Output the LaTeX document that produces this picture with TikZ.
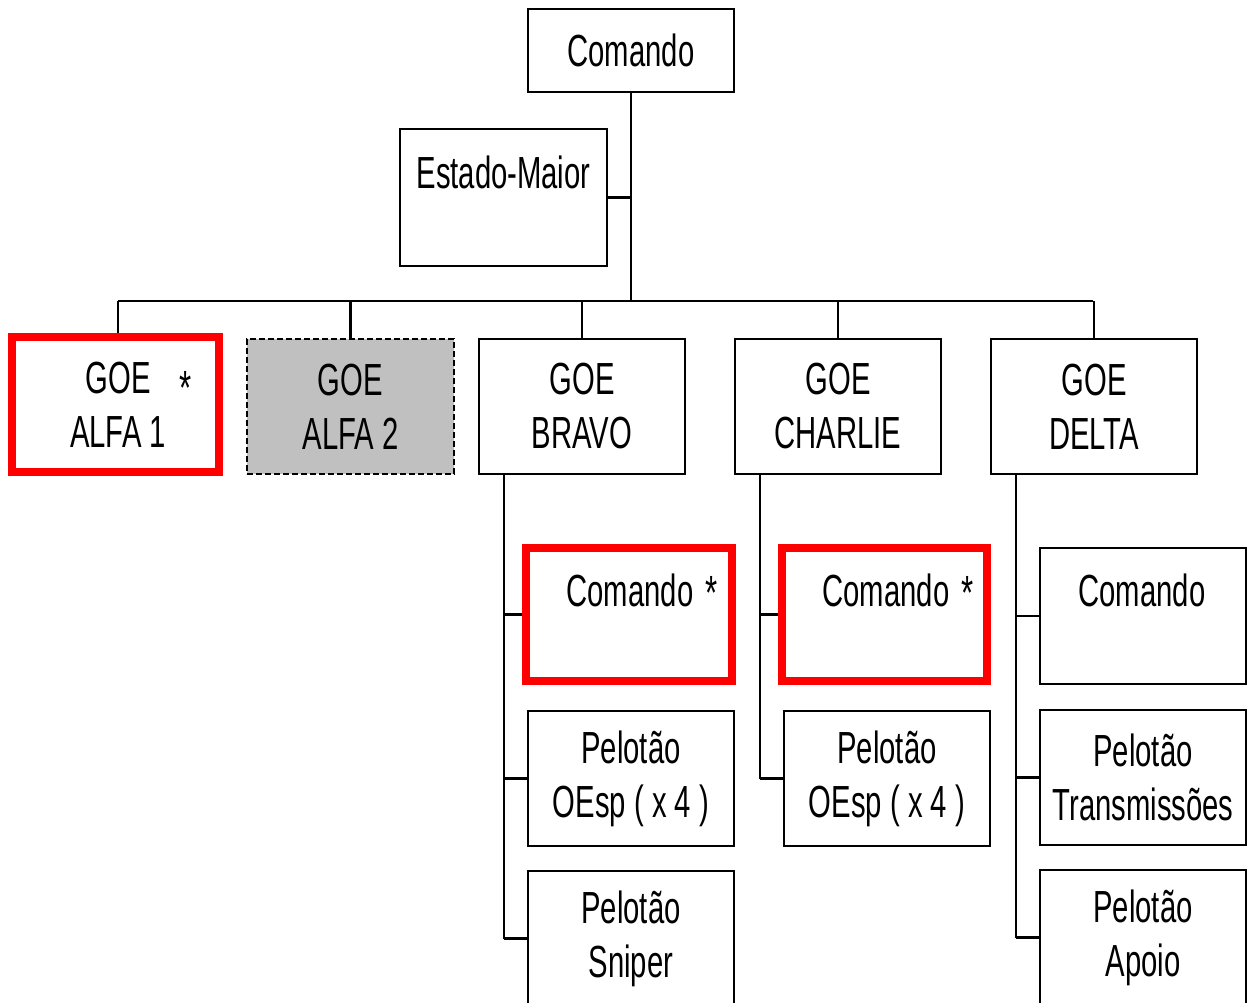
\documentclass[tikz,border=0pt]{standalone}
\usepackage{fontspec}
\setmainfont[FakeStretch=0.65]{Liberation Sans}
\newcommand{\orgfont}{\fontsize{45}{54}\selectfont}
\newcommand{\starfont}{\fontsize{48}{48}\selectfont}
\definecolor{unitgrey}{RGB}{192,192,192}
\tikzset{
  unit/.style={draw, line width=2.2pt, minimum width=206pt, minimum height=135pt,
               inner sep=0pt, align=center, font=\orgfont, fill=white},
  redunit/.style={unit, draw=red, line width=8pt},
  greyunit/.style={unit, dash pattern=on 6pt off 3pt, fill=unitgrey},
  caption/.style={inner sep=0pt, font=\orgfont, align=center},
  star/.style={inner sep=0pt, font=\starfont},
  wire/.style={line width=2.2pt}
}
\begin{document}
\begin{tikzpicture}[x=1pt, y=-1pt]
\useasboundingbox (0,0) rectangle (1247,1003);
\clip (0,0) rectangle (1247,1003);

% command level
\node[unit, minimum height=83pt] (cmd) at (631,50.5) {Comando};
\node[unit, minimum width=207pt, minimum height=137pt] (staff) at (503.5,197.5) {};
\node[caption] (stafftxt) at (503.5,172) {Estado-Maior};

% groups
\node[redunit, minimum width=207pt] (alfa1) at (115.5,404.5) {};
\node[caption] (alfa1txt) at (118,405) {GOE\\ALFA 1};
\node[star] (alfa1star) at (186,388) {*};
\node[greyunit, minimum width=207pt] (alfa2) at (350.5,406.5) {GOE\\ALFA 2};
\node[unit] (bravo) at (582,406.5) {GOE\\BRAVO};
\node[unit] (charlie) at (838,406.5) {GOE\\CHARLIE};
\node[unit] (delta) at (1094,406.5) {GOE\\DELTA};

% bus under the command
\coordinate (busL) at (118,301);
\coordinate (busR) at (1093,301);
\draw[wire] (busL) -- (busR);
\draw[wire] (cmd.south) -- (cmd.south |- busL);
\draw[wire] (staff.east) -- (staff.east -| cmd.south);
\draw[wire] (busL) -- (busL |- alfa1.north);
\foreach \g in {alfa2,bravo,charlie,delta}
  \draw[wire] (\g.north |- busL) -- (\g.north);

% BRAVO
\node[redunit, minimum height=133pt] (bcmd) at (629,614.5) {};
\node[caption] (bcmdtxt) at (630,590) {Comando};
\node[star] (bcmdstar) at (712,593) {*};
\node[unit] (bpel) at (631,778.5) {Pelotão\\OEsp ( x 4 )};
\node[unit] (bsnp) at (631,938.5) {Pelotão\\Sniper};
\coordinate (bspine) at (504,0);
\draw[wire] (bspine |- bravo.south) -- (bspine |- bsnp.west);
\foreach \u in {bcmd,bpel,bsnp}
  \draw[wire] (bspine |- \u.west) -- (\u.west);

% CHARLIE
\node[redunit, minimum width=205pt, minimum height=133pt] (ccmd) at (884.5,614.5) {};
\node[caption] (ccmdtxt) at (886,590) {Comando};
\node[star] (ccmdstar) at (968,593) {*};
\node[unit] (cpel) at (887,778.5) {Pelotão\\OEsp ( x 4 )};
\coordinate (cspine) at (760,0);
\draw[wire] (cspine |- charlie.south) -- (cspine |- cpel.west);
\foreach \u in {ccmd,cpel}
  \draw[wire] (cspine |- \u.west) -- (\u.west);

% DELTA
\node[unit, minimum height=136pt] (dcmd) at (1143,616) {};
\node[caption] (dcmdtxt) at (1142,590) {Comando};
\node[unit] (dtx) at (1143,777.5) {Pelotão\\Transmissões};
\node[unit] (dap) at (1143,937.5) {Pelotão\\Apoio};
\coordinate (dspine) at (1016,0);
\draw[wire] (dspine |- delta.south) -- (dspine |- dap.west);
\foreach \u in {dcmd,dtx,dap}
  \draw[wire] (dspine |- \u.west) -- (\u.west);
\end{tikzpicture}
\end{document}
